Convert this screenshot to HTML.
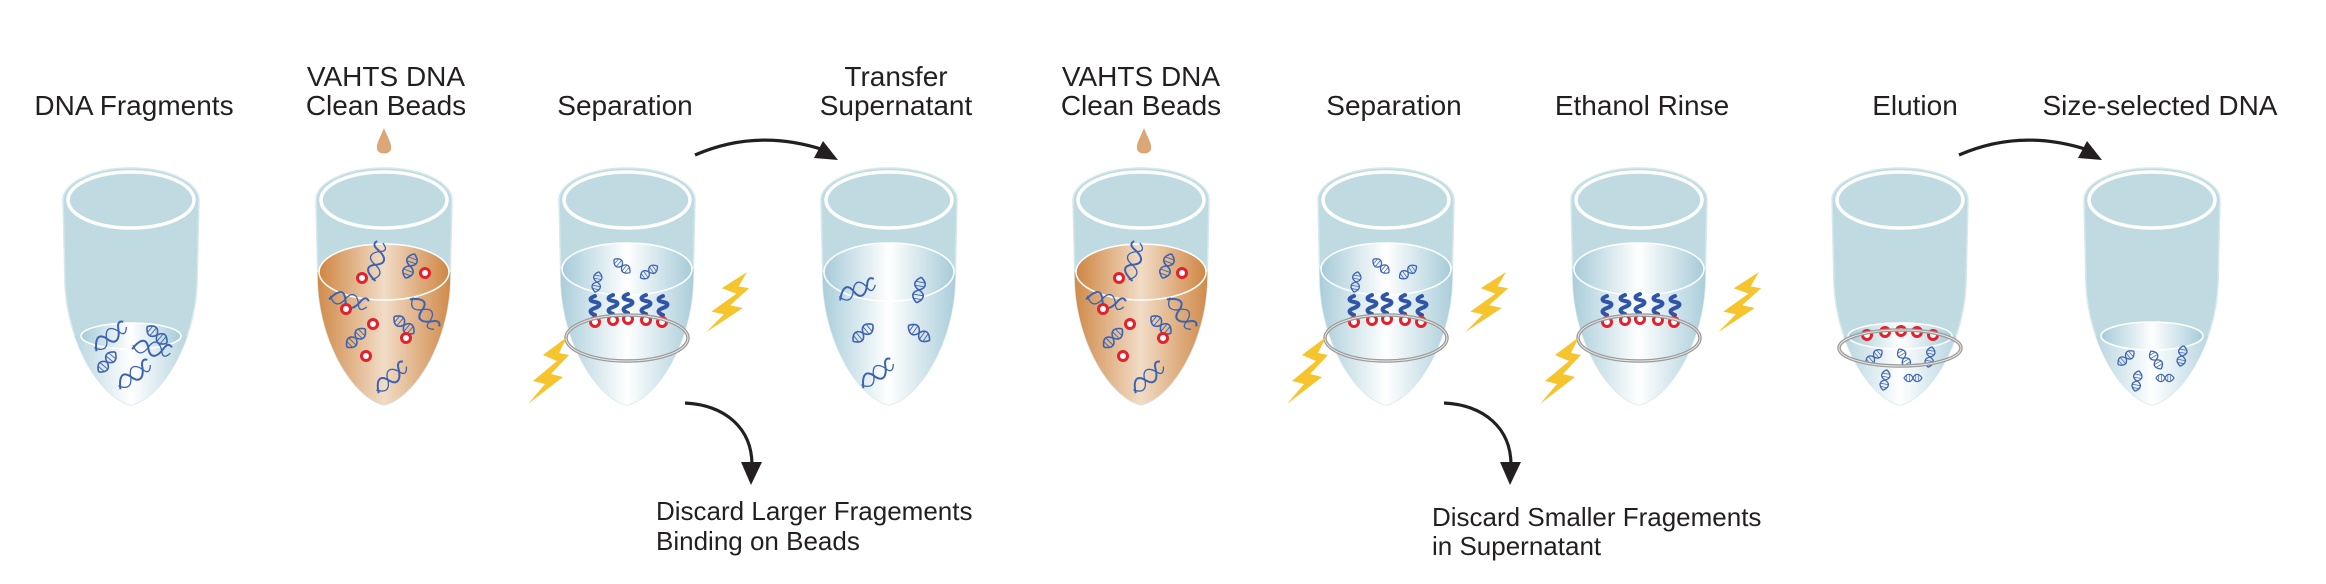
<!DOCTYPE html>
<html><head><meta charset="utf-8"><style>
html,body{margin:0;padding:0;background:#fff;}
svg{display:block;}
text{font-family:"Liberation Sans",Arial,sans-serif;fill:#231f20;}
.lab{font-size:28px;text-anchor:middle;}
.dis{font-size:26px;}
</style></head><body>
<svg width="2326" height="584" viewBox="0 0 2326 584" xmlns="http://www.w3.org/2000/svg">
<defs>
<path id="tb" d="M-68,200 A68,32 0 0 1 68,200 L66,285 C63,345 30,398 0,405 C-30,398 -63,345 -66,285 Z"/>
<clipPath id="tc"><use href="#tb"/></clipPath>
<linearGradient id="bl" x1="0" x2="1" y1="0" y2="0">
<stop offset="0" stop-color="#a6cbd8"/><stop offset="0.5" stop-color="#ffffff"/><stop offset="1" stop-color="#a6cbd8"/></linearGradient>
<linearGradient id="or" x1="0" x2="1" y1="0" y2="0">
<stop offset="0" stop-color="#cf8643"/><stop offset="0.5" stop-color="#f1dcc6"/><stop offset="1" stop-color="#cf8643"/></linearGradient>
<g id="tube">
<use href="#tb" fill="#bfdbe1" stroke="#d6e8ec" stroke-width="1.5"/>
<ellipse cx="0" cy="200" rx="63" ry="28" fill="none" stroke="#fff" stroke-width="3.5"/>
</g>
<g id="dna" fill="none" stroke="#3c62b0" stroke-width="1.6">
<path d="M-13,0 C-8,-7 -3,-7 0,0 C3,7 8,7 13,0"/>
<path d="M-13,0 C-8,7 -3,7 0,0 C3,-7 8,-7 13,0"/>
<path d="M-9,-4 v8 M-5,-5 v10 M4,-5 v10 M8,-4 v8" stroke-width="0.9"/>
</g>
<g id="dnal" fill="none" stroke="#3c62b0" stroke-width="2">
<path d="M-18,6 C-12,-8 -6,-8 -2,2 C2,10 8,8 12,-2 C14,-8 17,-9 20,-6"/>
<path d="M-18,2 C-12,10 -6,10 -2,-2 C2,-10 8,-8 12,2 C14,6 17,5 20,0" stroke-width="1.3"/>
</g>
<path id="str" d="M0,0 c-6,2 -6,5 0,6 c6,1 6,4 0,6 c-6,2 -6,5 0,7" fill="none" stroke="#2f55a8" stroke-width="4" stroke-linecap="round"/>
<circle id="bd" r="4.5" fill="#fff" stroke="#e3202b" stroke-width="3"/>
<polygon id="bolt" fill="#f6c42c" points="0,0 -24,18 -10,24 -34,44 -22,47 -39,67 -4,40 -16,37 2,18 -8,16"/>
</defs>

<text class="lab" x="134" y="115">DNA Fragments</text>
<text class="lab" x="386" y="86">VAHTS DNA</text>
<text class="lab" x="386" y="115">Clean Beads</text>
<text class="lab" x="625" y="115">Separation</text>
<text class="lab" x="896" y="86">Transfer</text>
<text class="lab" x="896" y="115">Supernatant</text>
<text class="lab" x="1141" y="86">VAHTS DNA</text>
<text class="lab" x="1141" y="115">Clean Beads</text>
<text class="lab" x="1394" y="115">Separation</text>
<text class="lab" x="1642" y="115">Ethanol Rinse</text>
<text class="lab" x="1915" y="115">Elution</text>
<text class="lab" x="2160" y="115">Size-selected DNA</text>

<path d="M384,128 C388,138 392,144 391,149 C390,155 378,155 377,149 C376,144 380,138 384,128 Z" fill="#dca777"/>
<path d="M1144,128 C1148,138 1152,144 1151,149 C1150,155 1138,155 1137,149 C1136,144 1140,138 1144,128 Z" fill="#dca777"/>

<g transform="translate(131,0)">
<use href="#tube"/>
<g clip-path="url(#tc)"><rect x="-70" y="336" width="140" height="80" fill="url(#bl)"/></g>
<ellipse cx="0" cy="336" rx="50" ry="13" fill="url(#bl)" stroke="#fff" stroke-width="1.5"/>
<use href="#dnal" transform="translate(-22,337) rotate(-30)"/>
<use href="#dna" transform="translate(26,335) rotate(40)"/>
<use href="#dnal" transform="translate(20,348) rotate(15)"/>
<use href="#dna" transform="translate(-24,362) rotate(-50)"/>
<use href="#dnal" transform="translate(2,375) rotate(-30)"/>
</g>

<g id="vb" transform="translate(384,0)">
<use href="#tube"/>
<g clip-path="url(#tc)"><rect x="-70" y="272" width="140" height="140" fill="url(#or)"/></g>
<ellipse cx="0" cy="272" rx="65" ry="28" fill="url(#or)" stroke="#fff" stroke-width="1.5"/>
<use href="#dnal" transform="translate(-8,262) rotate(-70)"/>
<use href="#dna" transform="translate(26,266) rotate(-70)"/>
<use href="#dnal" transform="translate(-36,300) rotate(20)"/>
<use href="#dnal" transform="translate(40,312) rotate(60)"/>
<use href="#dna" transform="translate(20,325) rotate(40)"/>
<use href="#dna" transform="translate(-28,338) rotate(-45)"/>
<use href="#dnal" transform="translate(6,378) rotate(-35)"/>
<use href="#bd" x="-22" y="278"/><use href="#bd" x="41" y="273"/><use href="#bd" x="-38" y="309"/>
<use href="#bd" x="-11" y="324"/><use href="#bd" x="22" y="338"/><use href="#bd" x="-18" y="356"/>
</g>
<use href="#vb" transform="translate(757,0)"/>

<g id="sep" transform="translate(627,0)">
<use href="#tube"/>
<g clip-path="url(#tc)"><rect x="-70" y="269" width="140" height="140" fill="url(#bl)"/></g>
<ellipse cx="0" cy="269" rx="65" ry="26" fill="url(#bl)" stroke="#fff" stroke-width="1.5"/>
<use href="#dna" transform="translate(-30,282) rotate(-80) scale(0.8)"/>
<use href="#dna" transform="translate(-5,266) rotate(40) scale(0.8)"/>
<use href="#dna" transform="translate(22,272) rotate(-35) scale(0.8)"/>
<use href="#str" x="-32" y="296"/><use href="#str" x="-14" y="295"/><use href="#str" x="1" y="294"/><use href="#str" x="19" y="295"/><use href="#str" x="36" y="296"/>
<use href="#bd" x="-32" y="322"/><use href="#bd" x="-14" y="320"/><use href="#bd" x="1" y="319"/><use href="#bd" x="19" y="320"/><use href="#bd" x="35" y="322"/>
<ellipse cx="0" cy="338" rx="61" ry="23" fill="none" stroke="#9a9a9a" stroke-width="3.5"/>
<ellipse cx="0" cy="338" rx="61" ry="23" fill="none" stroke="#e6e6e6" stroke-width="1"/>
<use href="#bolt" transform="translate(-60,337)"/>
<use href="#bolt" transform="translate(120,272) scale(1.05,0.9)"/>
</g>
<use href="#sep" transform="translate(759,0)"/>

<g transform="translate(1639,0)">
<use href="#tube"/>
<g clip-path="url(#tc)"><rect x="-70" y="269" width="140" height="140" fill="url(#bl)"/></g>
<ellipse cx="0" cy="269" rx="65" ry="26" fill="url(#bl)" stroke="#fff" stroke-width="1.5"/>
<use href="#str" x="-32" y="296"/><use href="#str" x="-14" y="295"/><use href="#str" x="1" y="294"/><use href="#str" x="19" y="295"/><use href="#str" x="36" y="296"/>
<use href="#bd" x="-32" y="322"/><use href="#bd" x="-14" y="320"/><use href="#bd" x="1" y="319"/><use href="#bd" x="19" y="320"/><use href="#bd" x="35" y="322"/>
<ellipse cx="0" cy="338" rx="61" ry="23" fill="none" stroke="#9a9a9a" stroke-width="3.5"/>
<ellipse cx="0" cy="338" rx="61" ry="23" fill="none" stroke="#e6e6e6" stroke-width="1"/>
<use href="#bolt" transform="translate(-60,337)"/>
<use href="#bolt" transform="translate(120,272) scale(1.05,0.9)"/>
</g>

<g transform="translate(889,0)">
<use href="#tube"/>
<g clip-path="url(#tc)"><rect x="-70" y="272" width="140" height="140" fill="url(#bl)"/></g>
<ellipse cx="0" cy="272" rx="65" ry="29" fill="url(#bl)" stroke="#fff" stroke-width="1.5"/>
<use href="#dnal" transform="translate(-33,290) rotate(-15)"/>
<use href="#dna" transform="translate(30,290) rotate(-80)"/>
<use href="#dna" transform="translate(-26,333) rotate(-40)"/>
<use href="#dna" transform="translate(30,333) rotate(35)"/>
<use href="#dnal" transform="translate(-13,374) rotate(-30)"/>
</g>

<g transform="translate(1900,0)">
<use href="#tube"/>
<g clip-path="url(#tc)"><rect x="-70" y="336" width="140" height="80" fill="url(#bl)"/></g>
<ellipse cx="0" cy="336" rx="52" ry="13" fill="url(#bl)" stroke="#fff" stroke-width="1.5"/>
<use href="#bd" x="-33" y="335"/><use href="#bd" x="-15" y="332"/><use href="#bd" x="1" y="331"/><use href="#bd" x="17" y="332"/><use href="#bd" x="33" y="335"/>
<use href="#dna" transform="translate(-26,357) rotate(-40) scale(0.8)"/>
<use href="#dna" transform="translate(4,358) rotate(60) scale(0.8)"/>
<use href="#dna" transform="translate(30,357) rotate(-80) scale(0.8)"/>
<use href="#dna" transform="translate(-15,380) rotate(-80) scale(0.8)"/>
<use href="#dna" transform="translate(13,378) scale(0.7)"/>
<ellipse cx="0" cy="348" rx="61" ry="18" fill="none" stroke="#9a9a9a" stroke-width="3.5"/>
<ellipse cx="0" cy="348" rx="61" ry="18" fill="none" stroke="#e6e6e6" stroke-width="1"/>
</g>

<g transform="translate(2152,0)">
<use href="#tube"/>
<g clip-path="url(#tc)"><rect x="-70" y="336" width="140" height="80" fill="url(#bl)"/></g>
<ellipse cx="0" cy="336" rx="51" ry="14" fill="url(#bl)" stroke="#fff" stroke-width="1.5"/>
<use href="#dna" transform="translate(-26,358) rotate(-40) scale(0.8)"/>
<use href="#dna" transform="translate(4,360) rotate(60) scale(0.8)"/>
<use href="#dna" transform="translate(30,356) rotate(-80) scale(0.8)"/>
<use href="#dna" transform="translate(-15,381) rotate(-80) scale(0.8)"/>
<use href="#dna" transform="translate(13,378) scale(0.7)"/>
</g>

<g fill="none" stroke="#231f20" stroke-width="3.2">
<path d="M695,155 Q757,128 824,150"/>
<path d="M1959,155 Q2021,128 2088,150"/>
<path d="M685,403 C725,405 752,428 752,465"/>
<path d="M1444,403 C1484,405 1511,428 1511,465"/>
</g>
<g fill="#231f20">
<polygon points="838,160 814,158 823,141"/>
<polygon points="2102,160 2078,158 2087,141"/>
<polygon points="751,485 741,462 762,462"/>
<polygon points="1510,485 1500,462 1521,462"/>
</g>

<text class="dis" x="656" y="520">Discard Larger Fragements</text>
<text class="dis" x="656" y="550">Binding on Beads</text>
<text class="dis" x="1432" y="526">Discard Smaller Fragements</text>
<text class="dis" x="1432" y="555">in Supernatant</text>
</svg>
</body></html>
